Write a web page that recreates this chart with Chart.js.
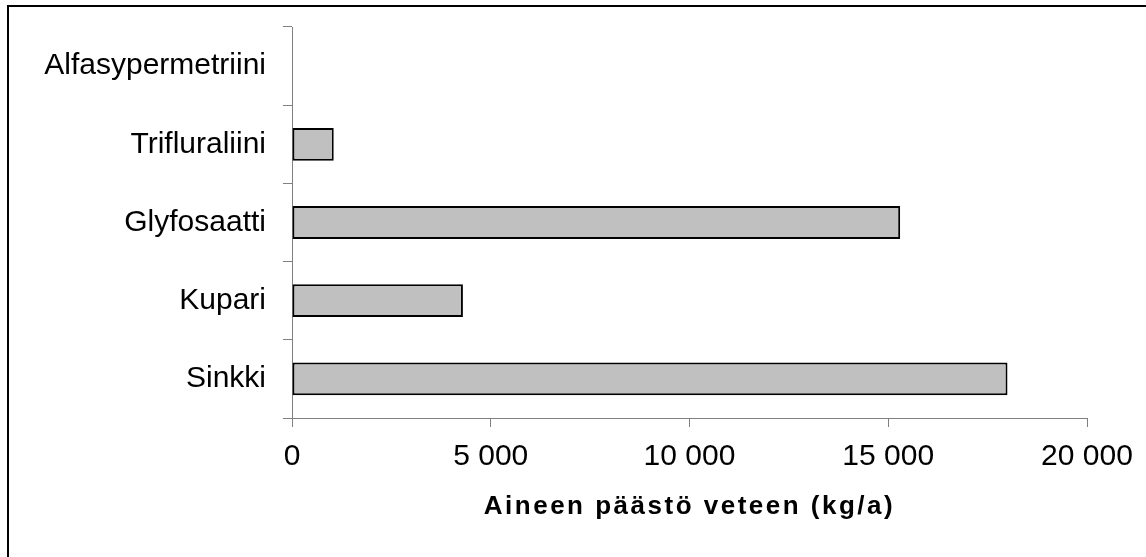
<!DOCTYPE html>
<html>
<head>
<meta charset="utf-8">
<title>Aineen päästö veteen</title>
<script src="https://cdn.jsdelivr.net/npm/chart.js@4.4.1/dist/chart.umd.min.js"></script>
<style>
  html, body { margin: 0; padding: 0; background: #fff; }
  #wrap { width: 1146px; height: 557px; position: relative; }
</style>
</head>
<body>
<div id="wrap"><canvas id="emissionChart"></canvas></div>
<script>
// Chart data
const categories = ["Alfasypermetriini", "Trifluraliini", "Glyfosaatti", "Kupari", "Sinkki"];
const emissions = [0, 1050, 15300, 4300, 18000];
const xTicks = [0, 5000, 10000, 15000, 20000];
const axisTitle = "Aineen päästö veteen (kg/a)";

const FONT = "'Liberation Sans', Arial, sans-serif";

// format numbers like "15 000"
function formatNumber(v) {
  return String(v).replace(/\B(?=(\d{3})+(?!\d))/g, " ");
}

// white background + the two frame lines (top and left only)
const framePlugin = {
  id: "frame",
  beforeDraw(chart) {
    const ctx = chart.ctx;
    ctx.save();
    ctx.fillStyle = "#ffffff";
    ctx.fillRect(0, 0, chart.width, chart.height);
    ctx.strokeStyle = "#000000";
    ctx.lineWidth = 2;
    ctx.beginPath();
    ctx.moveTo(8, chart.height);
    ctx.lineTo(8, 6);
    ctx.lineTo(chart.width, 6);
    ctx.stroke();
    ctx.restore();
  },
};

// axis title with the wide letter spacing of the original
const titlePlugin = {
  id: "xTitle",
  afterDraw(chart) {
    const area = chart.chartArea;
    const ctx = chart.ctx;
    ctx.save();
    ctx.font = "bold 26px " + FONT;
    ctx.letterSpacing = "2.5px";
    ctx.fillStyle = "#000000";
    ctx.textAlign = "center";
    ctx.textBaseline = "middle";
    ctx.fillText(axisTitle, (area.left + area.right) / 2, area.bottom + 89);
    ctx.restore();
  },
};

const ctx = document.getElementById("emissionChart");
new Chart(ctx.getContext("2d"), {
  type: "bar",
  data: {
    labels: categories,
    datasets: [
      {
        label: axisTitle,
        data: emissions,
        backgroundColor: "#c0c0c0",
        borderColor: "#000000",
        borderWidth: 2,
        borderSkipped: false,
        categoryPercentage: 1.0,
        barPercentage: 0.42,
      },
    ],
  },
  options: {
    indexAxis: "y",
    responsive: true,
    maintainAspectRatio: false,
    animation: false,
    devicePixelRatio: 1,
    layout: {
      padding: { top: 27, right: 59, bottom: 0, left: 0 },
    },
    plugins: {
      legend: { display: false },
      tooltip: { enabled: false },
    },
    scales: {
      x: {
        min: 0,
        max: 20000,
        afterBuildTicks: (scale) => {
          scale.ticks = xTicks.map((v) => ({ value: v }));
        },
        afterFit: (scale) => {
          scale.height = 139;
          scale.paddingLeft = 0;
          scale.paddingRight = 0;
        },
        ticks: {
          color: "#000000",
          font: { family: FONT, size: 30 },
          padding: 12,
          maxRotation: 0,
          callback: (v) => formatNumber(v),
        },
        grid: {
          drawOnChartArea: false,
          color: "#808080",
          tickLength: 9,
        },
        border: { display: true, color: "#808080", width: 1 },
      },
      y: {
        afterFit: (scale) => {
          scale.width = 292;
          scale.paddingTop = 0;
          scale.paddingBottom = 0;
        },
        ticks: {
          color: "#000000",
          font: { family: FONT, size: 30 },
          padding: 17,
        },
        grid: {
          drawOnChartArea: false,
          color: "#808080",
          tickLength: 9,
        },
        border: { display: true, color: "#808080", width: 1 },
      },
    },
  },
  plugins: [framePlugin, titlePlugin],
});
</script>
</body>
</html>
